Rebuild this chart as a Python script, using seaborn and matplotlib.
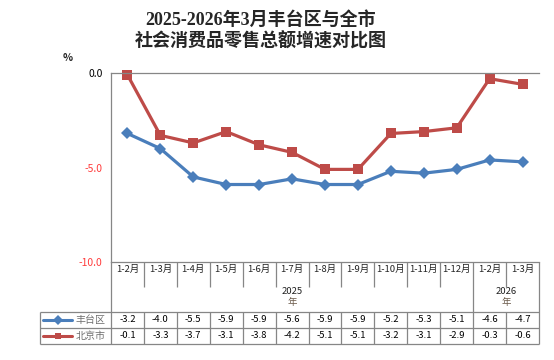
#!/usr/bin/env python3
import matplotlib
matplotlib.use("Agg")
import matplotlib.pyplot as plt
import matplotlib.transforms as mtransforms
import seaborn as sns
import pandas as pd

CATEGORIES = ["1-2月", "1-3月", "1-4月", "1-5月", "1-6月", "1-7月", "1-8月",
              "1-9月", "1-10月", "1-11月", "1-12月", "1-2月", "1-3月"]
YEARS = ["2025\n年", "2026\n年"]
YEAR_SPANS = [(0, 11), (11, 13)]  # category index ranges per year
SERIES = ["丰台区", "北京市"]
FENGTAI = [-3.2, -4.0, -5.5, -5.9, -5.9, -5.6, -5.9, -5.9, -5.2, -5.3, -5.1, -4.6, -4.7]
BEIJING = [-0.1, -3.3, -3.7, -3.1, -3.8, -4.2, -5.1, -5.1, -3.2, -3.1, -2.9, -0.3, -0.6]
YTICKS = [0.0, -5.0, -10.0]

TITLE = "2025-2026年3月丰台区与全市\n社会消费品零售总额增速对比图"

COLORS = {"丰台区": "#4A7EBB", "北京市": "#BE4B48"}
MARKERS = {"丰台区": "D", "北京市": "s"}
GRID = "#868686"

sns.set_style("white")
plt.rcParams['font.family'] = ['Noto Sans CJK SC', 'DejaVu Sans']

W, H = 554, 360
L, R, T, B = 111, 539, 73, 262   # plot area in pixels


def main():
    rows = []
    for name, vals in zip(SERIES, [FENGTAI, BEIJING]):
        for i, v in enumerate(vals):
            rows.append([name, i, v])
    df = pd.DataFrame(rows, columns=['series', 'idx', 'value'])

    fig = plt.figure(figsize=(W / 100, H / 100), dpi=100)
    ax = fig.add_axes([L / W, 1 - B / H, (R - L) / W, (B - T) / H])

    sns.lineplot(data=df, x='idx', y='value', hue='series', style='series',
                 hue_order=SERIES, style_order=SERIES, palette=COLORS,
                 markers=MARKERS, dashes=False, linewidth=2.3,
                 markersize=6.5, markeredgewidth=0, legend=False, ax=ax)
    for line in ax.lines:
        line.set_clip_on(False)

    n = len(CATEGORIES)
    ax.set_xlim(-0.5, n - 0.5)
    ax.set_ylim(-10, 0)
    ax.set_xticks([])
    ax.set_yticks(YTICKS)
    ax.set_yticklabels([f"{v:.1f}" for v in YTICKS], fontsize=7.5)
    for lab, v in zip(ax.get_yticklabels(), YTICKS):
        lab.set_color("black" if v == 0 else "#FF3B3B")
    ax.tick_params(axis='y', length=0, pad=6)
    ax.set_xlabel("")
    ax.set_ylabel("")
    for side in ['top', 'left', 'bottom']:
        ax.spines[side].set_color(GRID)
        ax.spines[side].set_linewidth(0.9)
    ax.spines['right'].set_visible(False)

    # --- category / data table below the plot ---
    trans = mtransforms.blended_transform_factory(ax.transData, ax.transAxes)

    def yax(py):
        return (B - py) / (B - T)

    def xax(px):
        return (px - L) / (R - L)

    lkw = dict(color=GRID, lw=0.9, clip_on=False, solid_capstyle='butt')
    y_lab, y_year, y_r1, y_r2 = 287, 312, 328, 344
    year_edges = [s for s, _ in YEAR_SPANS] + [n]
    for k in range(1, n + 1):
        b = k - 0.5
        if k in year_edges:
            ax.plot([b, b], [yax(B), yax(y_r2)], transform=trans, **lkw)
        else:
            ax.plot([b, b], [yax(B), yax(y_lab)], transform=trans, **lkw)
            ax.plot([b, b], [yax(y_year), yax(y_r2)], transform=trans, **lkw)
    ax.plot([0, 0], [0, yax(y_r2)], transform=ax.transAxes, **lkw)
    for py in [y_year, y_r1, y_r2]:
        ax.plot([xax(40), 1], [yax(py)] * 2, transform=ax.transAxes, **lkw)
    ax.plot([xax(40)] * 2, [yax(y_year), yax(y_r2)], transform=ax.transAxes, **lkw)

    for i, cat in enumerate(CATEGORIES):
        ax.text(i, yax(269), cat, transform=trans, ha='center', va='center',
                fontsize=6.8, color='#222222')

    for (s, e), yr in zip(YEAR_SPANS, YEARS):
        c = (s + e - 1) / 2
        y4, ch = yr.split("\n")
        ax.text(c, yax(292), y4, transform=trans, ha='center', va='center',
                fontsize=6.8, color='#222222')
        ax.text(c, yax(302.5), ch, transform=trans, ha='center', va='center',
                fontsize=6.8, color='#6b5a4a')

    for name, vals, py in zip(SERIES, [FENGTAI, BEIJING], [320, 336]):
        ax.plot([xax(43), xax(72)], [yax(py)] * 2, transform=ax.transAxes,
                color=COLORS[name], lw=2.2, clip_on=False)
        ax.plot([xax(57.5)], [yax(py)], transform=ax.transAxes,
                marker=MARKERS[name], color=COLORS[name], ms=5,
                mew=0, clip_on=False)
        ax.text(xax(76), yax(py), name, transform=ax.transAxes, ha='left',
                va='center', fontsize=7.2, color='#707070')
        for i, v in enumerate(vals):
            ax.text(i, yax(py), f"{v:.1f}", transform=trans, ha='center',
                    va='center', fontsize=6.8, color='black')

    fig.text(68 / W, 1 - 58 / H, "%", ha='center', va='center', fontsize=7.5,
             fontweight='bold')
    fig.text(261 / W, 1 - 31 / H, TITLE, ha='center', va='center',
             fontsize=13, fontweight='bold', linespacing=1.2,
             family=['Liberation Serif', 'Noto Sans CJK SC'])

    fig.savefig("out.png", dpi=100)
    plt.close()


if __name__ == '__main__':
    main()
